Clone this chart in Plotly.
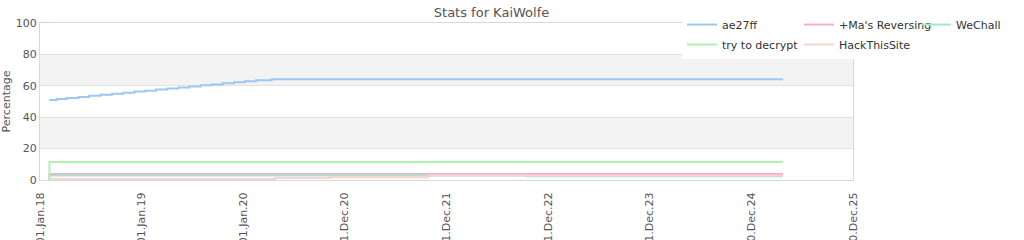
import plotly.graph_objects as go

# ---- data ----
ae27ff_dates = ["2018-02-03", "2018-03-02", "2018-04-07", "2018-05-19", "2018-06-27",
                "2018-08-07", "2018-09-17", "2018-10-27", "2018-12-06", "2019-01-14",
                "2019-02-22", "2019-04-03", "2019-05-13", "2019-06-21", "2019-08-01",
                "2019-09-10", "2019-10-19", "2019-11-29", "2020-01-07", "2020-02-16",
                "2020-04-12", "2025-04-23"]
ae27ff_vals = [51.0, 51.6, 52.3, 52.9, 53.6, 54.3, 54.9, 55.6, 56.3, 56.9,
               57.6, 58.3, 58.9, 59.6, 60.3, 60.9, 61.6, 62.3, 62.9, 63.6,
               64.2, 64.2]

ma_dates = ["2018-02-03", "2018-02-04", "2025-04-23"]
ma_vals = [0, 3.8, 3.8]

wechall_dates = ["2018-02-03", "2018-02-04", "2022-10-15", "2025-04-23"]
wechall_vals = [0, 2.9, 2.4, 2.4]

decrypt_dates = ["2018-02-03", "2018-02-04", "2025-04-23"]
decrypt_vals = [0, 11.5, 11.5]

hts_dates = ["2018-02-03", "2020-04-24", "2020-11-07", "2021-10-25", "2025-04-23"]
hts_vals = [0.6, 1.3, 1.8, 2.8, 2.8]

tick_vals = ["2018-01-01", "2019-01-01", "2020-01-01", "2020-12-31", "2021-12-31",
             "2022-12-31", "2023-12-31", "2024-12-30", "2025-12-30"]
tick_text = ["01.Jan.18", "01.Jan.19", "01.Jan.20", "31.Dec.20", "31.Dec.21",
             "31.Dec.22", "31.Dec.23", "30.Dec.24", "30.Dec.25"]
y_ticks = [0, 20, 40, 60, 80, 100]

# (name, x, y, colour, legend row)
series = [
    ("ae27ff", ae27ff_dates, ae27ff_vals, "#9cc8f2", "legend"),
    ("+Ma's Reversing", ma_dates, ma_vals, "#f4acd0", "legend"),
    ("WeChall", wechall_dates, wechall_vals, "#a2e8cf", "legend"),
    ("try to decrypt", decrypt_dates, decrypt_vals, "#b2f0ae", "legend2"),
    ("HackThisSite", hts_dates, hts_vals, "#f8d2d0", "legend2"),
]

fig = go.Figure()
for name, xs, ys, col, lg in series:
    fig.add_trace(go.Scatter(x=xs, y=ys, name=name, mode="lines", legend=lg,
                             line=dict(color=col, width=2, shape="hv")))

# alternating grey bands
shapes = []
for i in range(len(y_ticks) - 1):
    if i % 2 == 1:
        shapes.append(dict(type="rect", xref="paper", yref="y", x0=0, x1=1,
                           y0=y_ticks[i], y1=y_ticks[i + 1],
                           fillcolor="#f3f3f3", line_width=0, layer="below"))

legend_common = dict(orientation="h", xref="container", yref="container",
                     x=0.666, xanchor="left", yanchor="top",
                     bgcolor="white", entrywidth=72, entrywidthmode="pixels",
                     font=dict(size=11, color="#333"), itemwidth=30,
                     tracegroupgap=0)

fig.update_layout(
    width=1024, height=240,
    margin=dict(l=40, r=171, t=23, b=60, autoexpand=False),
    paper_bgcolor="white", plot_bgcolor="white",
    font=dict(family="DejaVu Sans", size=11, color="#555"),
    title=dict(text="Stats for KaiWolfe", x=0.48, xanchor="center",
               y=0.95, yanchor="middle", font=dict(size=13, color="#555")),
    shapes=shapes,
    showlegend=True,
    legend=dict(legend_common, y=0.958),
    legend2=dict(legend_common, y=0.875),
)
fig.update_xaxes(type="date", range=["2018-01-01", "2025-12-30"],
                 tickvals=tick_vals, ticktext=tick_text, tickangle=-90,
                 showgrid=False, showline=True, linecolor="#d8d8d8",
                 mirror=True, zeroline=False, automargin=False,
                 ticklabelstandoff=7, tickfont=dict(size=11, color="#555"))
fig.update_yaxes(range=[0, 100], tickvals=y_ticks, showgrid=True,
                 gridcolor="#e2e2e2", showline=True, linecolor="#d8d8d8",
                 mirror=True, zeroline=False, automargin=False,
                 title=dict(text="Percentage", standoff=6,
                            font=dict(size=11, color="#555")),
                 tickfont=dict(size=11, color="#555"))

fig.write_html("out.html")
